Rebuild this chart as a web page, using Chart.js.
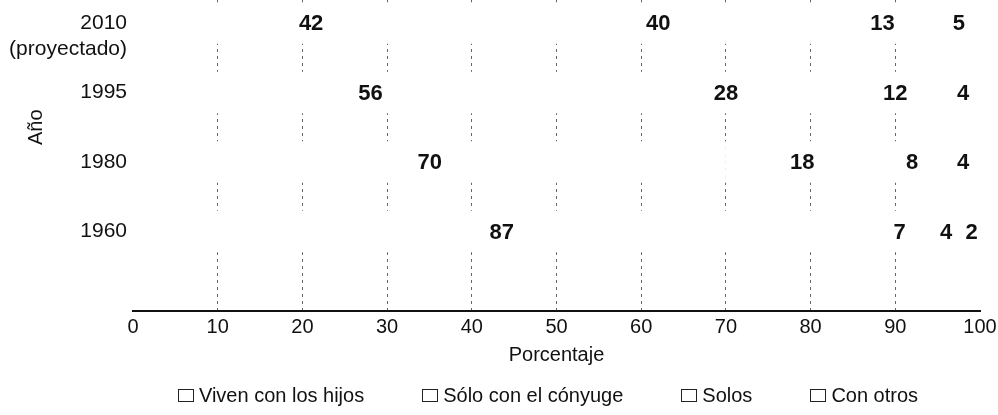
<!DOCTYPE html>
<html>
<head>
<meta charset="utf-8">
<script src="https://cdn.jsdelivr.net/npm/chart.js@4.4.1/dist/chart.umd.min.js"></script>
<style>
body { margin: 0; background: #fff; }
#wrap { position: relative; width: 998px; height: 415px; }
#legend {
    position: absolute; left: 0; top: 382px; width: 998px; box-sizing: border-box;
    padding-left: 98px; display: flex; justify-content: center; gap: 58px;
    font: 20px "Liberation Sans", Arial, sans-serif; line-height: 26px; color: #111;
}
#legend .item { display: flex; align-items: center; }
#legend .box { width: 14px; height: 11px; border: 1.5px solid #222; margin-right: 5px; }
</style>
</head>
<body>
<div id="wrap">
    <canvas id="myChart" width="998" height="415"></canvas>
    <div id="legend"></div>
</div>
<script>
'use strict';
var FONT = '"Liberation Sans", Arial, sans-serif';

var years = ['2010', '1995', '1980', '1960'];
var seriesNames = ['Viven con los hijos', 'Sólo con el cónyuge', 'Solos', 'Con otros'];
var conHijos = [42, 56, 70, 87];
var conConyuge = [40, 28, 18, 7];
var solos = [13, 12, 8, 4];
var conOtros = [5, 4, 4, 2];
var percentTicks = [0, 10, 20, 30, 40, 50, 60, 70, 80, 90, 100];

/**
 * One point per row, the row index is the position on the y scale
 */
var toPoints = function(values) {
    return values.map(function(v, i) { return {x: v, y: i}; });
};

var makeDataset = function(name, values) {
    return {
        label: name,
        data: toPoints(values),
        backgroundColor: '#ffffff',
        borderWidth: 0,
        barPercentage: 0.6,
        categoryPercentage: 1
    };
};

// numbers in the middle of each segment, plus the extra texts on the left
var valueLabels = {
    id: 'valueLabels',
    afterDatasetsDraw: function(chart) {
        var ctx = chart.ctx;
        ctx.save();
        ctx.font = 'bold 22px ' + FONT;
        ctx.fillStyle = '#111';
        ctx.textAlign = 'center';
        ctx.textBaseline = 'middle';
        chart.data.datasets.forEach(function(ds, di) {
            chart.getDatasetMeta(di).data.forEach(function(bar, i) {
                var c = bar.getCenterPoint();
                ctx.fillText(ds.data[i].x, c.x, c.y + 1);
            });
        });
        ctx.restore();
    },
    afterDraw: function(chart) {
        var ctx = chart.ctx;
        var yScale = chart.scales.y;
        ctx.save();
        ctx.fillStyle = '#111';
        ctx.font = '21px ' + FONT;
        ctx.textAlign = 'right';
        ctx.textBaseline = 'middle';
        ctx.fillText('(proyectado)', yScale.right - 6, yScale.getPixelForValue(0) + 26);

        ctx.font = '20px ' + FONT;
        ctx.textAlign = 'center';
        ctx.translate(36, yScale.getPixelForValue(1.5));
        ctx.rotate(-Math.PI / 2);
        ctx.fillText('Año', 0, 0);
        ctx.restore();
    }
};

var buildLegend = function(chart) {
    var box = document.getElementById('legend');
    chart.data.datasets.forEach(function(ds) {
        var item = document.createElement('span');
        item.className = 'item';
        var sq = document.createElement('span');
        sq.className = 'box';
        sq.style.background = ds.backgroundColor;
        item.appendChild(sq);
        item.appendChild(document.createTextNode(ds.label));
        box.appendChild(item);
    });
};

var ctx = document.getElementById('myChart');
var myChart = new Chart(ctx, {
    type: 'bar',
    data: {
        datasets: [
            makeDataset(seriesNames[0], conHijos),
            makeDataset(seriesNames[1], conConyuge),
            makeDataset(seriesNames[2], solos),
            makeDataset(seriesNames[3], conOtros)
        ]
    },
    options: {
        indexAxis: 'y',
        responsive: false,
        animation: false,
        layout: {
            padding: {left: 5, right: 18, top: 0, bottom: 45}
        },
        plugins: {
            legend: {display: false},
            tooltip: {enabled: false}
        },
        scales: {
            x: {
                type: 'linear',
                stacked: true,
                min: 0,
                max: 100,
                afterBuildTicks: function(scale) {
                    scale.ticks = percentTicks.map(function(v) { return {value: v}; });
                },
                afterFit: function(scale) {
                    scale.paddingRight = 0;
                },
                ticks: {
                    autoSkip: false,
                    maxRotation: 0,
                    padding: 4,
                    color: '#111',
                    font: {family: FONT, size: 20}
                },
                grid: {
                    drawTicks: false,
                    lineWidth: 1,
                    color: function(c) {
                        return (c.tick && (c.tick.value === 0 || c.tick.value === 100)) ? 'rgba(0,0,0,0)' : '#666';
                    }
                },
                border: {display: true, color: '#111', width: 2, dash: [3, 4]},
                title: {
                    display: true,
                    text: 'Porcentaje',
                    color: '#111',
                    font: {family: FONT, size: 20},
                    padding: {top: 0, bottom: 3}
                }
            },
            y: {
                type: 'linear',
                stacked: true,
                reverse: true,
                offset: false,
                min: -0.331,
                max: 4.144,
                afterBuildTicks: function(scale) {
                    scale.ticks = years.map(function(y, i) { return {value: i}; });
                },
                afterFit: function(scale) {
                    scale.width = 128;
                    scale.paddingTop = 0;
                    scale.paddingBottom = 0;
                },
                ticks: {
                    padding: 6,
                    color: '#111',
                    font: {family: FONT, size: 21},
                    callback: function(value) { return years[value]; }
                },
                grid: {display: false, drawTicks: false},
                border: {display: false}
            }
        }
    },
    plugins: [valueLabels]
});

buildLegend(myChart);
</script>
</body>
</html>
